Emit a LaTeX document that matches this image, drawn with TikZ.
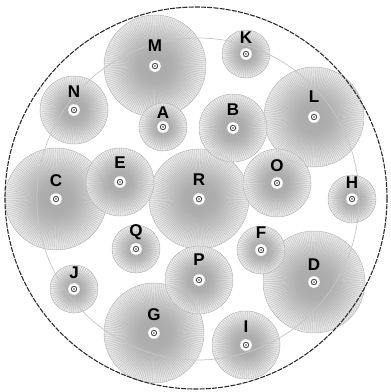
\documentclass[tikz,border=0pt]{standalone}
\usepackage{fontspec}
\setsansfont{Liberation Sans}
\pgfdeclareradialshading{discfill}{\pgfpoint{0bp}{0bp}}{%
  color(0bp)=(gray!80); color(8bp)=(gray!74); color(16bp)=(gray!46);
  color(22bp)=(gray!25); color(25bp)=(gray!18); color(50bp)=(gray!18)}
\tikzset{
  spoke/.style={draw=gray!62,line width=0.2pt},
  rim/.style={draw=gray!55,line width=0.5pt},
  lbl/.style={font=\sffamily\bfseries\fontsize{17}{17}\selectfont,inner sep=0pt},
  ring/.style={draw=gray!45,line width=0.7pt},
  fence/.style={draw=gray!35!black,line width=1.1pt,dash pattern=on 5pt off 1.2pt},
  % disc with radial spokes: radius, number of spokes
  pics/disc/.style 2 args={code={
    \shade[shading=discfill,opacity=0.85] (0,0) circle (#1);
    \foreach \a in {1,...,#2} \draw[spoke] (360/#2*\a+0.7:0.3*#1) -- (360/#2*\a+0.7:#1);
    \draw[rim] (0,0) circle (#1);
    \fill[white] (0,0) circle (5.8);
    \draw[gray!60!black,line width=0.9pt] (0,0) circle (2.7);
    \fill[gray!60!black] (0,0) circle (0.8);
  }},
}
\begin{document}
\begin{tikzpicture}[x=1pt,y=-1pt]
  \useasboundingbox (0,0) rectangle (391,392);
  \coordinate (ctr) at (198,199);
  % name / centre x / centre y / label y / radius / spokes
  \foreach \n/\x/\y/\ly/\r/\k in {M/155/66/46/51/150, L/314/117/97/50/150,
      C/56/199/181/51/150, R/199/199/180/50/150, D/314/282/265/51/150,
      G/154/333/315/50/150, N/74/110/92/34/90, B/233/128/110/34/90,
      E/120/182/163/34/90, O/277/183/166/34/90, P/199/280/260/34/90,
      I/246/345/327/34/90, K/246/54/38/24/60, A/163/127/113/24/60,
      H/352/199/183/24/60, Q/136/249/232/24/60, F/261/250/233/24/60,
      J/74/289/273/24/60}
    \pic (d\n) at (\x,\y) {disc={\r}{\k}};
  \draw[ring] (ctr) circle (161);
  \foreach \n/\x/\y in {M/155/46, L/314/97, C/56/181, R/199/180, D/314/265,
      G/154/315, N/74/92, B/233/110, E/120/163, O/277/166, P/199/260,
      I/246/327, K/246/38, A/163/113, H/352/183, Q/136/232, F/261/233, J/74/273}
    \node[lbl] (\n) at (\x,\y) {\n};
  \draw[fence] (196,198) circle (191);
\end{tikzpicture}
\end{document}
